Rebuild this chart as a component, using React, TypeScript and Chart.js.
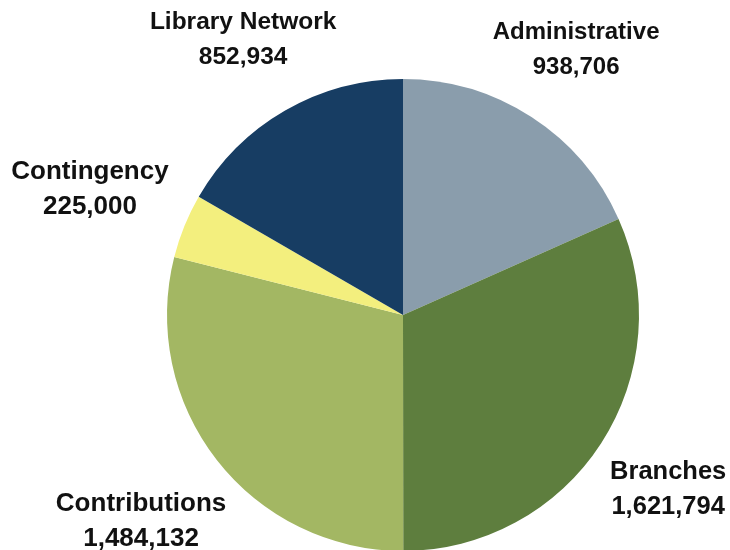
import React, { useEffect, useRef } from "react";
import { Chart, registerables } from "chart.js";

Chart.register(...registerables);

const categories = ["Administrative", "Branches", "Contributions", "Contingency", "Library Network"];
const values = [938706, 1621794, 1484132, 225000, 852934];
const valueLabels = ["938,706", "1,621,794", "1,484,132", "225,000", "852,934"];
const colors = ["#8A9DAC", "#5E7E3E", "#A3B763", "#F3EF7E", "#173D63"];
const labelDistance = [318, 316, 332, 338, 320];
const labelFontSize = [24, 25.5, 26, 26, 24.5];

const labelPlugin = {
  id: "outerLabels",
  afterDatasetsDraw(chart: any) {
    const ctx = chart.ctx;
    const meta = chart.getDatasetMeta(0);
    ctx.save();
    ctx.fillStyle = "#111111";
    ctx.textAlign = "center";
    ctx.textBaseline = "alphabetic";
    meta.data.forEach((arc: any, i: number) => {
      const p = arc.getProps(["x", "y", "startAngle", "endAngle"], true);
      const mid = (p.startAngle + p.endAngle) / 2;
      const d = labelDistance[i];
      const cx = p.x + Math.cos(mid) * d;
      const cy = p.y + Math.sin(mid) * d;
      const fs = labelFontSize[i];
      ctx.font = `bold ${fs}px "Liberation Sans", Arial, sans-serif`;
      const cap = fs * 0.716;
      ctx.fillText(categories[i], cx, cy - 17.5 + cap / 2);
      ctx.fillText(valueLabels[i], cx, cy + 17.5 + cap / 2);
    });
    ctx.restore();
  },
};

export default function App() {
  const ref = useRef<HTMLCanvasElement>(null);
  useEffect(() => {
    const prev = document.body.style.margin;
    document.body.style.margin = "0";
    const chart = new Chart(ref.current!, {
      type: "pie",
      data: {
        labels: categories,
        datasets: [
          {
            data: values,
            backgroundColor: colors,
            borderWidth: 0,
          },
        ],
      },
      options: {
        responsive: false,
        animation: false,
        layout: { padding: { left: 167, right: 91, top: 79, bottom: 1 } },
        plugins: {
          legend: { display: false },
          tooltip: { enabled: false },
          title: { display: false },
        },
      },
      plugins: [labelPlugin],
    });
    return () => {
      chart.destroy();
      document.body.style.margin = prev;
    };
  }, []);
  return (
    <div style={{ position: "absolute", left: 0, top: 0, width: 730, height: 550, overflow: "hidden", background: "#ffffff" }}>
      <canvas ref={ref} width={730} height={552} style={{ display: "block" }} />
    </div>
  );
}
